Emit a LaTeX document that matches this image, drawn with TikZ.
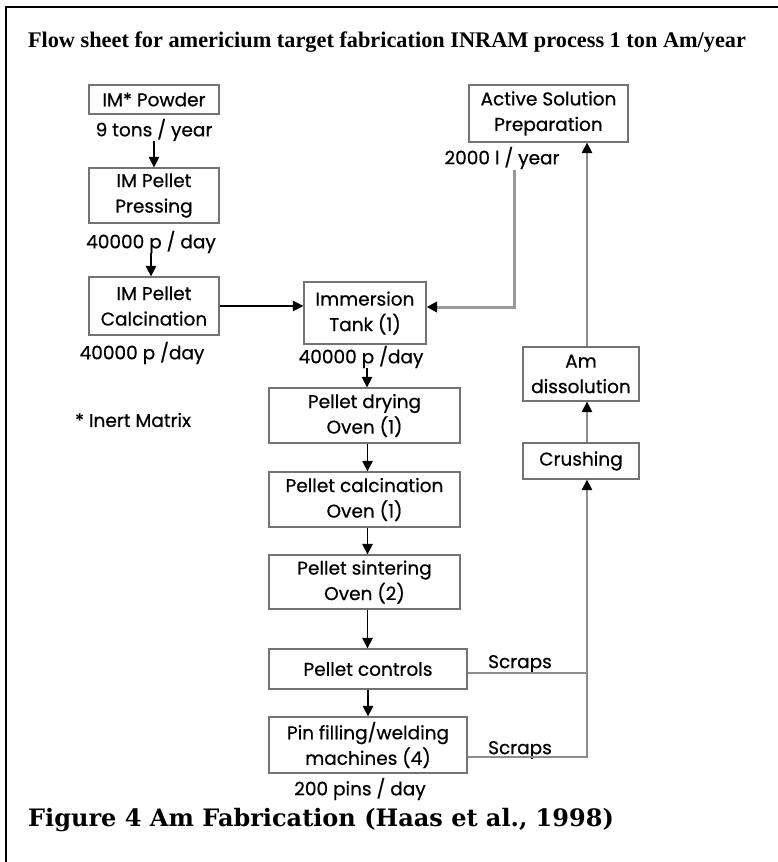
\documentclass[tikz,border=0pt]{standalone}
\usepackage{fontspec}
\setmainfont{Poppins}[FakeBold=0.6]
\newfontfamily\titlefont{Liberation Serif}
\newfontfamily\capfont{DejaVu Serif}
\usetikzlibrary{arrows.meta}
\begin{document}
\begin{tikzpicture}[x=1pt,y=-1pt,
  box/.style={draw=black!55, line width=1.3pt, inner sep=0pt, align=center,
    font=\fontsize{18.5}{25.5}\selectfont},
  lbl/.style={inner sep=0pt, font=\fontsize{18.5}{20}\selectfont},
  arr/.style={-{Triangle[width=10.5pt,length=10.5pt]}, line width=1.5pt},
  gline/.style={draw=black!45, line width=1.4pt},
  gtip/.style={-{Triangle[width=10.5pt,length=10.5pt,color=black]}}]
\useasboundingbox (0,0) rectangle (778,862);
\draw[line width=1.6pt] (778,7) -- (6,7) -- (6,862);
\node[inner sep=0pt, font=\titlefont\bfseries\fontsize{22.3}{26}\selectfont] (title) at (387,42) {Flow sheet for americium target fabrication INRAM process 1 ton Am/year};
% left column
\node[box, minimum width=130pt, minimum height=29pt] (powder) at (154,99.5) {IM* Powder};
\node[lbl] (t9) at (154,130) {9 tons / year};
\node[box, minimum width=130pt, minimum height=55pt] (press) at (154,195.5) {IM Pellet\\Pressing};
\node[lbl] (t40a) at (151,242) {40000 p / day};
\node[box, minimum width=130pt, minimum height=58pt] (calc) at (154,306) {IM Pellet\\Calcination};
\node[lbl] (t40b) at (142,353) {40000 p /day};
\node[lbl] (inert) at (133,420) {* Inert Matrix};
% middle column
\node[box, minimum width=122pt, minimum height=62pt] (imm) at (365,313) {Immersion\\Tank (1)};
\node[lbl] (t40c) at (361,357) {40000 p /day};
\node[box, minimum width=191pt, minimum height=55pt] (dry) at (364.5,415.5) {Pellet drying\\Oven (1)};
\node[box, minimum width=191pt, minimum height=55pt] (pcalc) at (364.5,499.5) {Pellet calcination\\Oven (1)};
\node[box, minimum width=191pt, minimum height=54pt] (sint) at (364.5,582) {Pellet sintering\\Oven (2)};
\node[box, minimum width=198pt, minimum height=40pt] (ctrl) at (368,669) {Pellet controls};
\node[box, minimum width=198pt, minimum height=56pt] (pin) at (368,745) {Pin filling/welding\\machines (4)};
\node[lbl] (t200) at (360,789) {200 pins / day};
\node[lbl] (s1) at (520,664) {Scraps};
\node[lbl] (s2) at (520,750) {Scraps};
% right column
\node[box, minimum width=159pt, minimum height=57pt] (active) at (548.5,113.5) {Active Solution\\Preparation};
\node[lbl] (t2000) at (502,158) {2000 l / year};
\node[box, minimum width=116pt, minimum height=54pt] (diss) at (581,374) {Am\\dissolution};
\node[box, minimum width=116pt, minimum height=36pt] (crush) at (581,461) {Crushing};
\coordinate (lx) at (587,0);
\coordinate (c2000) at (514,170);
% connectors
\draw[arr] (t9.south) -- (t9.south |- press.north);
\draw[arr] (t40a.south) -- (t40a.south |- calc.north);
\draw[arr] (calc.east) -- (calc.east -| imm.west);
\draw[arr] (t40c.south) ++(6,0) coordinate (a3) -- (a3 |- dry.north);
\draw[arr] (dry.south) ++(3,0) coordinate (a4) -- (a4 |- pcalc.north);
\draw[arr] (pcalc.south) ++(3,0) coordinate (a5) -- (a5 |- sint.north);
\draw[arr] (sint.south) ++(3,0) coordinate (a6) -- (a6 |- ctrl.north);
\draw[arr] (ctrl.south) -- (pin.north);
\draw[gline, draw=black!40, line width=3pt, gtip] (c2000) |- ([yshift=6pt]imm.east);
\draw[gline, gtip] (diss.north -| lx) -- (active.south -| lx);
\draw[gline, gtip] (crush.north -| lx) -- (diss.south -| lx);
\draw[gline] ([yshift=-4pt]ctrl.east) -- ([yshift=-4pt]ctrl.east -| lx);
\draw[gline, gtip] ([yshift=-12pt]pin.east) -| (crush.south -| lx);
\node[inner sep=0pt, anchor=west, font=\capfont\bfseries\fontsize{24}{28}\selectfont] (caption) at (28,820) {Figure 4 Am Fabrication (Haas et al., 1998)};
\end{tikzpicture}
\end{document}
